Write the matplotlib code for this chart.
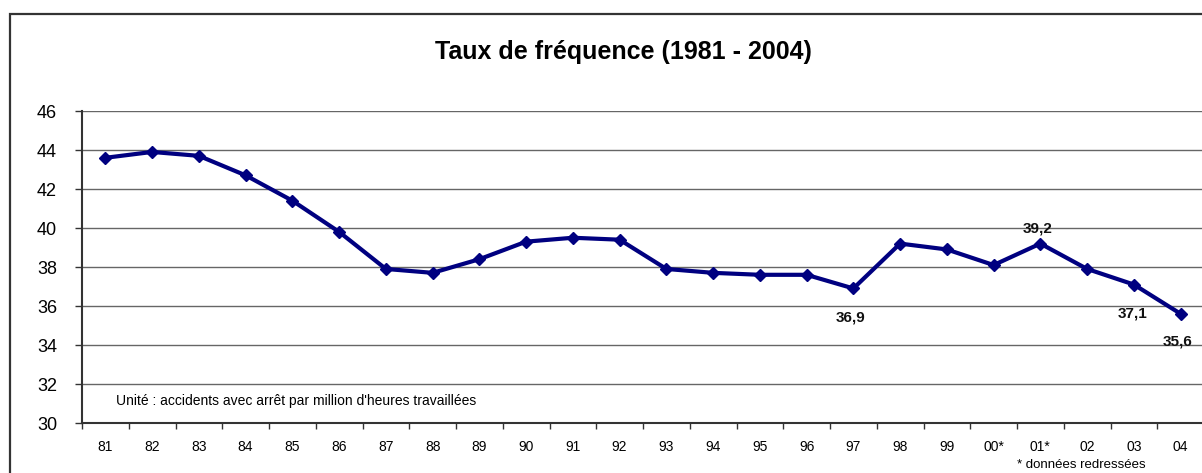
import matplotlib
matplotlib.use("Agg")
from matplotlib import pyplot as plt
from matplotlib.patches import Rectangle

# taux de frequence, 1981 - 2004
years = ["81", "82", "83", "84", "85", "86", "87", "88", "89", "90", "91", "92",
         "93", "94", "95", "96", "97", "98", "99", "00*", "01*", "02", "03", "04"]
rates = [43.6, 43.9, 43.7, 42.7, 41.4, 39.8, 37.9, 37.7, 38.4, 39.3, 39.5, 39.4,
         37.9, 37.7, 37.6, 37.6, 36.9, 39.2, 38.9, 38.1, 39.2, 37.9, 37.1, 35.6]
# points with a printed value: (index, text, offset in points)
labelled = [(16, "36,9", (-2, -21)), (20, "39,2", (-2, 11)),
            (22, "37,1", (-1, -21)), (23, "35,6", (-2, -20))]

plt.rcParams["font.family"] = ["Liberation Sans", "DejaVu Sans"]

fig = plt.figure(figsize=(12.02, 4.73), dpi=100)
ax = fig.add_axes([82 / 1202, 50 / 473, 1122 / 1202, 312 / 473])

# outer chart frame, cut off on the right and bottom like the original
fig.patches.append(Rectangle((10 / 1202, -0.2), 1.2, 0.2 + 459 / 473, transform=fig.transFigure,
                             fill=False, edgecolor="#333333", linewidth=1.6))

x = list(range(len(years)))
ax.plot(x, rates, color="#000080", linewidth=3, marker="D", markersize=6,
        markeredgecolor="#000080", zorder=3)

for i, txt, off in labelled:
    ax.annotate(txt, (x[i], rates[i]), xytext=off, textcoords="offset points",
                ha="center", va="center", fontsize=11, fontweight="bold", color="#111111")

ax.set_xlim(-0.5, len(years) - 0.5)
ax.set_ylim(30, 46)
ax.set_yticks(range(30, 47, 2))
ax.yaxis.grid(True, color="#666666", linewidth=1)
ax.set_axisbelow(True)
ax.tick_params(axis="y", direction="out", length=5, width=1, color="#333333",
               labelsize=13, pad=13)

# category boundaries carry the ticks, labels sit between them
ax.set_xticks([i - 0.5 for i in x])
ax.set_xticklabels([])
ax.set_xticks(x, minor=True)
ax.set_xticklabels(years, minor=True)
ax.tick_params(axis="x", which="major", direction="out", length=4, width=1, color="#333333")
ax.tick_params(axis="x", which="minor", length=0, labelsize=10, pad=12)

for side in ["top", "right"]:
    ax.spines[side].set_visible(False)
for side in ["left", "bottom"]:
    ax.spines[side].set_color("#333333")
    ax.spines[side].set_linewidth(1.5)

ax.text(0.030, 0.071, "Unité : accidents avec arrêt par million d'heures travaillées",
        transform=ax.transAxes, fontsize=10, va="center", ha="left")
fig.text(1081 / 1202, 1 - 465 / 473, "* données redressées", fontsize=9.5,
         ha="center", va="center")
fig.text(623 / 1202, 1 - 52 / 473, "Taux de fréquence (1981 - 2004)", fontsize=18,
         fontweight="bold", ha="center", va="center")

fig.savefig("out.png", dpi=100)
